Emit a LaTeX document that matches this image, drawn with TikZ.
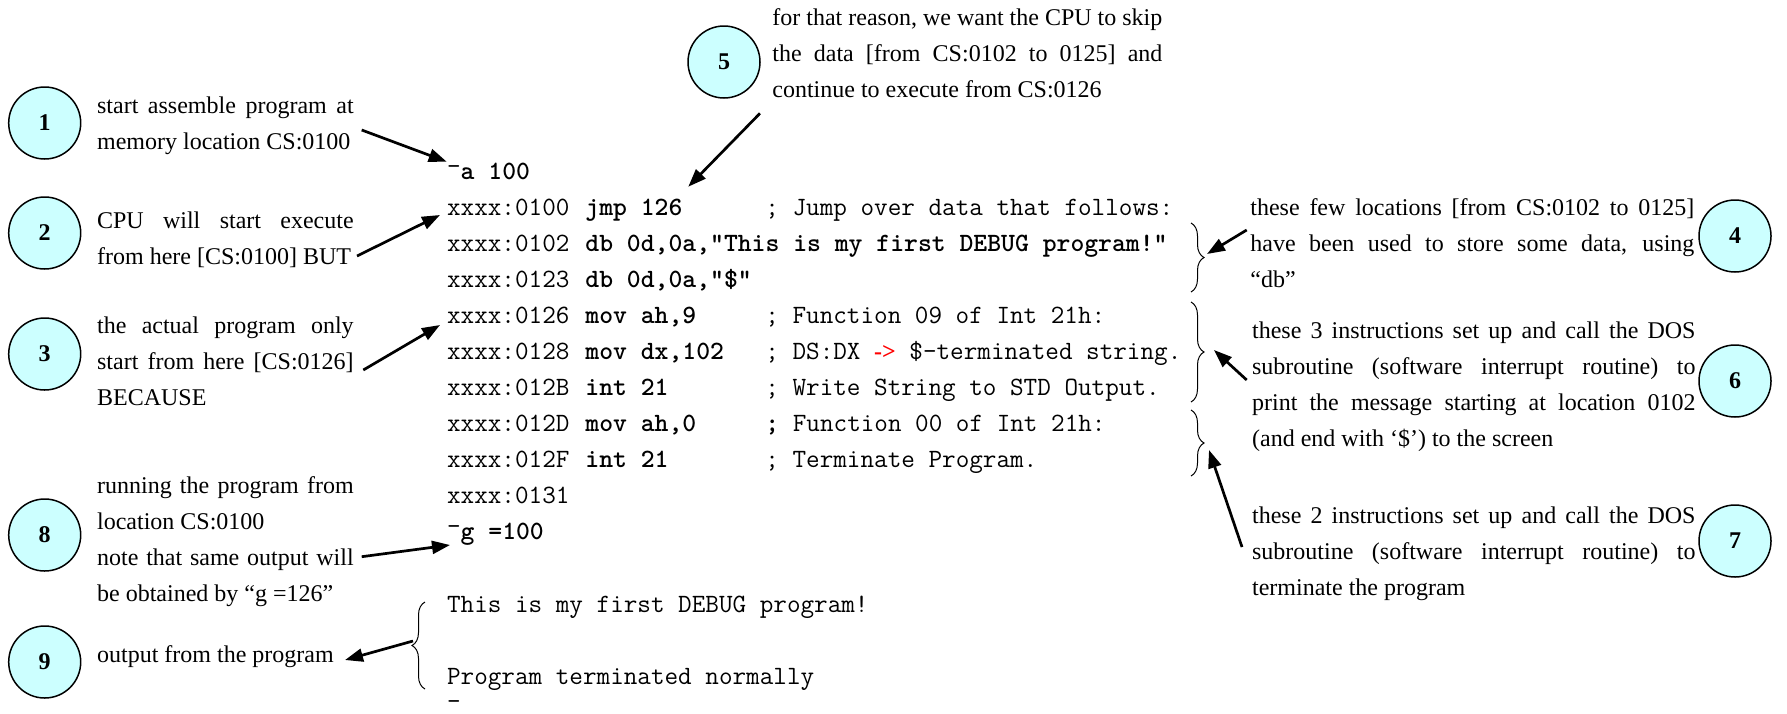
\documentclass[tikz,border=0pt]{standalone}
\usepackage{fontspec}
\setmainfont{Liberation Serif}
\usetikzlibrary{arrows.meta,decorations.pathreplacing}
\definecolor{numfill}{RGB}{204,255,255}
\newcommand\codefont{\ttfamily\fontsize{13.2}{18}\selectfont}
\newcommand\notefont{\fontsize{12}{18}\selectfont}
\newcommand\prompt{{\mdseries\raisebox{2.5pt}{-}}}
\tolerance=10000
\hbadness=10000

\begin{document}
\begin{tikzpicture}[x=0.5pt,y=-0.5pt,
  num/.style={circle,draw,line width=.75pt,fill=numfill,minimum size=36pt,inner sep=0pt,font=\notefont\bfseries},
  note/.style={anchor=base west,inner sep=0pt,align=justify,font=\notefont},
  addr/.style={anchor=base west,inner sep=0pt,font=\codefont},
  instr/.style={anchor=base west,inner sep=0pt,font=\codefont\bfseries},
  pointer/.style={-{Triangle[length=9pt,width=6.5pt]},line width=1.35pt},
  group/.style={decorate,decoration={brace,amplitude=6.5pt},line width=.5pt}]
\useasboundingbox (0,0) rectangle (1787,713);

\node[num] (n1) at (44.7,123) {1};
\node[num] (n2) at (44.7,233) {2};
\node[num] (n3) at (44.7,354) {3};
\node[num] (n8) at (44.7,535) {8};
\node[num] (n9) at (44.7,662) {9};
\node[num] (n5) at (724,62) {5};
\node[num] (n4) at (1735,236) {4};
\node[num] (n6) at (1735,381) {6};
\node[num] (n7) at (1735,541) {7};

\node[note,text width=128.3pt] (t1) at (96.7,113) {\parfillskip=0pt start assemble program at\linebreak memory location CS:0100};
\node[note,text width=128.3pt] (t2) at (96.7,228) {\parfillskip=0pt CPU will start execute\linebreak from here [CS:0100] BUT};
\node[note,text width=128.3pt] (t3) at (96.7,333) {the actual program only\linebreak start from here [CS:0126]\linebreak BECAUSE};
\node[note,text width=128.3pt] (t8) at (96.7,493) {running the program from\linebreak location CS:0100\\ note that same output will\linebreak be obtained by ``g =126''};
\node[note,text width=128.3pt] (t9) at (96.7,662) {output from the program};
\node[note,text width=195pt] (t5) at (772,25) {for that reason, we want the CPU to skip\linebreak the data [from CS:0102 to 0125] and\linebreak continue to execute from CS:0126};
\node[note,text width=222pt] (t4) at (1250,215) {these few locations [from CS:0102 to 0125]\linebreak have been used to store some data, using\linebreak ``db''};
\node[note,text width=221.7pt] (t6) at (1251.7,338) {these 3 instructions set up and call the DOS\linebreak subroutine (software interrupt routine) to\linebreak print the message starting at location 0102\linebreak (and end with `\$') to the screen};
\node[note,text width=221.7pt] (t7) at (1251.7,523) {these 2 instructions set up and call the DOS\linebreak subroutine (software interrupt routine) to\linebreak terminate the program};

\node[instr] (cmda) at (446.7,179) {\prompt a 100};
\node[addr] (a0100) at (446.7,215) {xxxx:0100};
\node[instr] (c0100) at (585,215) {jmp 126};
\node[addr] (m0100) at (765,215) {; Jump over data that follows:};
\node[addr] (a0102) at (446.7,251) {xxxx:0102};
\node[instr] (c0102) at (585,251) {db 0d,0a,"This is my first DEBUG program!"};
\node[addr] (a0123) at (446.7,287) {xxxx:0123};
\node[instr] (c0123) at (585,287) {db 0d,0a,"\$"};
\node[addr] (a0126) at (446.7,323) {xxxx:0126};
\node[instr] (c0126) at (585,323) {mov ah,9};
\node[addr] (m0126) at (765,323) {; Function 09 of Int 21h:};
\node[addr] (a0128) at (446.7,359) {xxxx:0128};
\node[instr] (c0128) at (585,359) {mov dx,102};
\node[addr] (m0128) at (765,359) {; DS:DX {\color{red}\rmfamily\bfseries\notefont->} \$-terminated string.};
\node[addr] (a012B) at (446.7,395) {xxxx:012B};
\node[instr] (c012B) at (585,395) {int 21};
\node[addr] (m012B) at (765,395) {; Write String to STD Output.};
\node[addr] (a012D) at (446.7,431) {xxxx:012D};
\node[instr] (c012D) at (585,431) {mov ah,0};
\node[addr] (m012D) at (765,431) {{\bfseries;} Function 00 of Int 21h:};
\node[addr] (a012F) at (446.7,467) {xxxx:012F};
\node[instr] (c012F) at (585,467) {int 21};
\node[addr] (m012F) at (765,467) {; Terminate Program.};
\node[addr] (a0131) at (446.7,503) {xxxx:0131};
\node[instr] (cmdg) at (446.7,539) {\prompt g =100};
\node[addr] (out1) at (446.7,612) {This is my first DEBUG program!};
\node[addr] (out2) at (446.7,684) {Program terminated normally};
\node[addr] (cursor) at (446.7,709) {-};

\draw[group] (1191,223) -- (1191,292);
\draw[group] (1191,302) -- (1191,402);
\draw[group] (1191,410) -- (1191,476);
\draw[group] (425,689) -- (425,602);

\coordinate (s1) at (361.7,130);
\coordinate (e1) at (446.7,161.7);
\coordinate (s2) at (357,256);
\coordinate (e2) at (440,215);
\coordinate (s3) at (363.3,370);
\coordinate (e3) at (440,325);
\coordinate (s8) at (361.7,556.7);
\coordinate (e8) at (450,545);
\coordinate (s9) at (413,641);
\coordinate (e9) at (345,660);
\coordinate (s5) at (760,113.3);
\coordinate (e5) at (688.3,186.7);
\coordinate (s4) at (1246.7,230);
\coordinate (e4) at (1207,254);
\coordinate (s6) at (1246.7,380);
\coordinate (e6) at (1214,350);
\coordinate (s7) at (1242,547);
\coordinate (e7) at (1209,450);

\draw[pointer] (s1) -- (e1);
\draw[pointer] (s2) -- (e2);
\draw[pointer] (s3) -- (e3);
\draw[pointer] (s8) -- (e8);
\draw[pointer] (s9) -- (e9);
\draw[pointer] (s5) -- (e5);
\draw[pointer] (s4) -- (e4);
\draw[pointer] (s6) -- (e6);
\draw[pointer] (s7) -- (e7);
\end{tikzpicture}
\end{document}
